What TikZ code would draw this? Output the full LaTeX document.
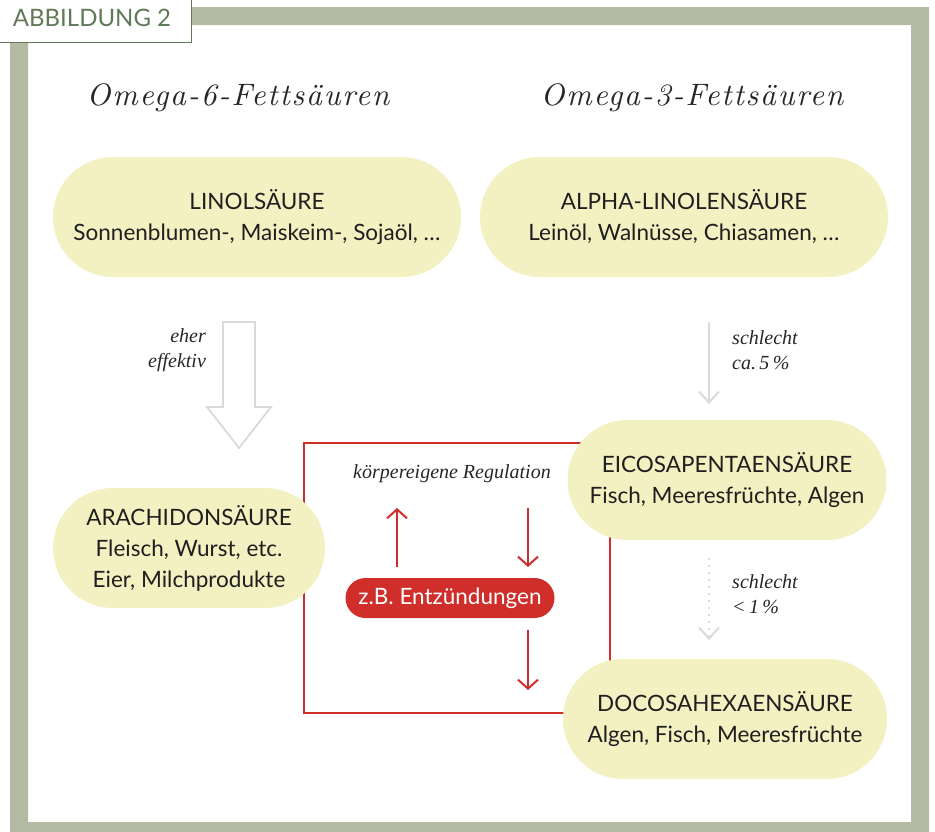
\documentclass[tikz,border=0pt]{standalone}
\usepackage{fontspec}
\newfontfamily\bodyfont{Lato}
\newfontfamily\notefont{Liberation Serif}
\newfontfamily\handfont{lmroman10-italic.otf}[LetterSpace=6]
\usetikzlibrary{arrows.meta}
\definecolor{framegreen}{RGB}{179,187,163}
\definecolor{tabgreen}{RGB}{96,122,88}
\definecolor{pillyellow}{RGB}{243,240,193}
\definecolor{inflred}{RGB}{208,46,43}
\definecolor{arrowgray}{RGB}{218,218,218}
\tikzset{
  acid/.style={fill=pillyellow, rounded corners=60pt, minimum height=120pt, align=center,
    text=black!88, font=\bodyfont\fontsize{22.5}{31}\selectfont},
  note/.style={align=left, text=black!85, font=\notefont\itshape\fontsize{20}{25}\selectfont},
  hand/.style={text=black!85, font=\handfont\fontsize{31}{31}\selectfont},
  redarr/.style={inflred, line width=2pt, -{Straight Barb[length=9pt,width=20pt]}},
  grayarr/.style={arrowgray, line width=2pt, -{Straight Barb[length=11pt,width=20pt]}},
}
\begin{document}
\begin{tikzpicture}[x=1pt,y=-1pt]
	\clip (0,0) rectangle (935,831);
	\useasboundingbox (0,0) rectangle (935,831);
	% frame and tab
	\fill[framegreen, even odd rule] (10,7) rectangle (929,845) (28,25) rectangle (911,822);
	\draw[tabgreen, fill=white, line width=1pt] (-2,-2) rectangle (191,42);
	\node[text=tabgreen, font=\bodyfont\fontsize{24}{24}\selectfont] (tab) at (92,18) {ABBILDUNG 2};
	% headings
	\node[hand] (h6) at (238,98) {Omega-6-Fettsäuren};
	\node[hand] (h3) at (692,98) {Omega-3-Fettsäuren};
	% regulation box (behind the pills)
	\draw[inflred, line width=2.5pt] (304,443) rectangle (610,713);
	% fatty acids
	\node[acid, minimum width=408pt] (lin) at (257,217) {LINOLSÄURE\\Sonnenblumen-, Maiskeim-, Sojaöl, …};
	\node[acid, minimum width=408pt] (ala) at (684,217) {ALPHA-LINOLENSÄURE\\Leinöl, Walnüsse, Chiasamen, …};
	\node[acid, minimum width=272pt] (ara) at (189,548) {ARACHIDONSÄURE\\Fleisch, Wurst, etc.\\Eier, Milchprodukte};
	\node[acid, minimum width=319pt] (epa) at (727,480) {EICOSAPENTAENSÄURE\\Fisch, Meeresfrüchte, Algen};
	\node[acid, minimum width=324pt] (dha) at (725,719) {DOCOSAHEXAENSÄURE\\Algen, Fisch, Meeresfrüchte};
	% conversions
	\coordinate (hollow) at (239,322);
	\draw[arrowgray, line width=1.8pt, fill=white, line join=miter] (hollow) ++(-16,0) -- ++(32,0) -- ++(0,85) -- ++(16,0)
		-- ++(-32,41) -- ++(-32,-41) -- ++(16,0) -- cycle;
	\node[note, align=right] (eff) at (177,350) {eher\\effektiv};
	\coordinate (ala-a) at (709,322);
	\coordinate (epa-a) at (709,404);
	\draw[grayarr] (ala-a) -- (epa-a);
	\node[note] (ala-n) at (765,350) {schlecht\\ca.\,5\,\%};
	\coordinate (epa-b) at (709,558);
	\coordinate (dha-b) at (709,640);
	\draw[grayarr, dash pattern=on 2pt off 5pt] (epa-b) -- (dha-b);
	\node[note] (epa-n) at (765,594) {schlecht\\\textless\,1\,\%};
	% regulation
	\node[note] (reg) at (452,474) {körpereigene Regulation};
	\node[fill=inflred, rounded corners=20pt, minimum width=209pt, minimum height=40pt, text=white,
		font=\bodyfont\fontsize{22.5}{23}\selectfont] (entz) at (450,598) {z.B. Entzündungen};
	\coordinate (upfoot) at (397,567);
	\coordinate (uphead) at (397,508);
	\coordinate (dntop) at (528,508);
	\coordinate (dnend) at (528,567);
	\coordinate (outtop) at (528,630);
	\coordinate (outend) at (528,690);
	\draw[redarr] (upfoot) -- (uphead);
	\draw[redarr] (dntop) -- (dnend);
	\draw[redarr] (outtop) -- (outend);
\end{tikzpicture}
\end{document}
